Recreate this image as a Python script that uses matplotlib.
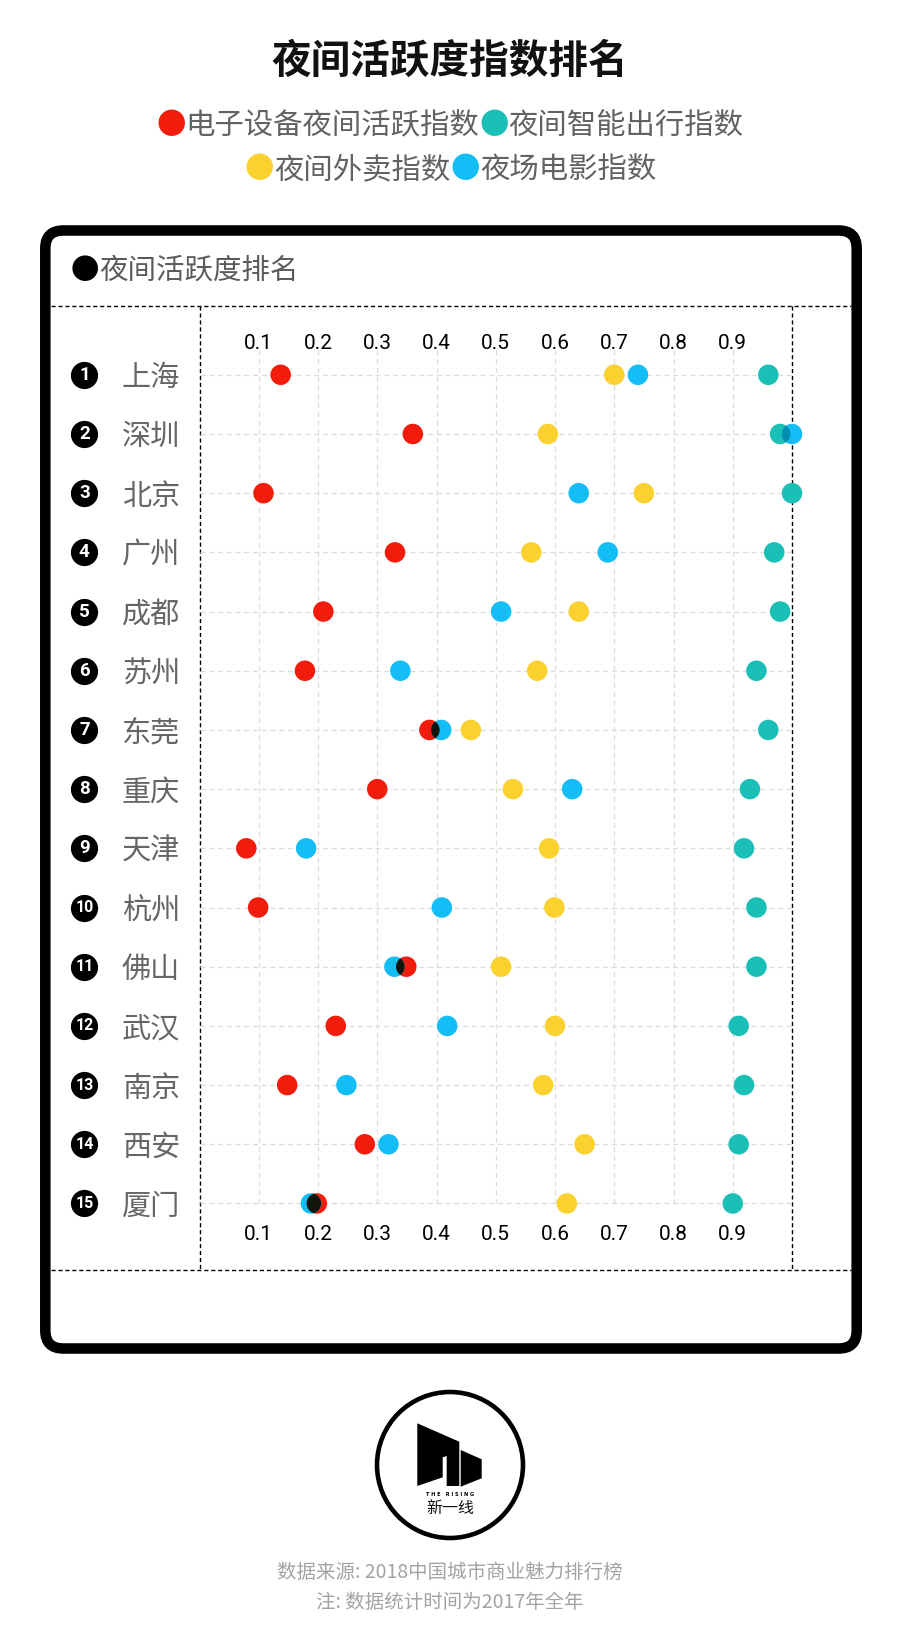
import matplotlib
matplotlib.use("Agg")
import matplotlib.pyplot as plt
from matplotlib.patches import Ellipse, FancyBboxPatch, Circle, Polygon
import numpy as np

plt.rcParams['font.family'] = ['Noto Sans CJK SC', 'DejaVu Sans']

# data
cities = ["上海", "深圳", "北京", "广州", "成都", "苏州", "东莞", "重庆",
          "天津", "杭州", "佛山", "武汉", "南京", "西安", "厦门"]
device_night = [0.137, 0.36, 0.108, 0.33, 0.209, 0.178, 0.388, 0.30,
                0.079, 0.099, 0.349, 0.23, 0.148, 0.279, 0.198]
smart_travel = [0.96, 0.98, 1.0, 0.97, 0.98, 0.94, 0.96, 0.929,
                0.919, 0.94, 0.94, 0.91, 0.919, 0.91, 0.90]
takeaway = [0.70, 0.588, 0.75, 0.56, 0.64, 0.57, 0.458, 0.529,
            0.59, 0.599, 0.509, 0.60, 0.58, 0.65, 0.62]
night_movie = [0.74, 1.0, 0.64, 0.689, 0.509, 0.339, 0.408, 0.629,
               0.18, 0.409, 0.329, 0.418, 0.248, 0.319, 0.188]
xticks = [0.1, 0.2, 0.3, 0.4, 0.5, 0.6, 0.7, 0.8, 0.9]

series_names = ["电子设备夜间活跃指数", "夜间智能出行指数", "夜间外卖指数", "夜场电影指数"]
colors = ["#f21c0c", "#1abfb6", "#fbd130", "#13bdf6"]
series = [device_night, smart_travel, takeaway, night_movie]

W, H = 900, 1650
fig = plt.figure(figsize=(9, 16.5), dpi=100)
fig.patch.set_facecolor("white")

# background axes in pixel coordinates for the decoration
bg = fig.add_axes([0, 0, 1, 1])
bg.set_xlim(0, W)
bg.set_ylim(H, 0)
bg.axis("off")

# title
bg.text(450, 61, "夜间活跃度指数排名", fontsize=28.5, fontweight="bold",
        ha="center", va="center", color="#111111")


def chain(x0, y, parts, size):
    prev = None
    for txt, col in parts:
        if prev is None:
            prev = bg.text(x0, y, txt, fontsize=size, color=col,
                           ha="left", va="center", fontweight="light")
        else:
            prev = bg.annotate(txt, xy=(1, 0.5), xycoords=prev, fontsize=size,
                               color=col, ha="left", va="center", fontweight="light")
    return prev


legend_gray = "#626262"
chain(156, 126, [("●", colors[0]), (series_names[0], legend_gray),
                 ("●", colors[1]), (series_names[1], legend_gray)], 21.2)
chain(245, 170, [("●", colors[2]), (series_names[2], legend_gray),
                 ("●", colors[3]), (series_names[3], legend_gray)], 21.2)

# rounded frame
box = FancyBboxPatch((45.3, 230.5), 811.4, 1118, boxstyle="round,pad=0,rounding_size=18",
                     facecolor="white", edgecolor="black", linewidth=7.6)
bg.add_patch(box)

chain(71, 271, [("●", "black"), ("夜间活跃度排名", "#5a5a5a")], 20.5)

# dashed frame lines
dash_kw = dict(color="black", linewidth=1.0, linestyle=(0, (3, 2)))
bg.plot([51, 851], [306, 306], **dash_kw)
bg.plot([51, 851], [1270, 1270], **dash_kw)
bg.plot([199.5, 199.5], [306, 1270], **dash_kw)
bg.plot([792, 792], [306, 1270], **dash_kw)

# logo
bg.add_patch(Circle((450, 1465), 73, facecolor="white", edgecolor="black", linewidth=3.3))
left_piece = [(417.3, 1423.3), (459.3, 1441.7), (459.3, 1486), (446.7, 1486),
              (446.7, 1456), (442.7, 1457.3), (442.7, 1477.3), (417.3, 1486)]
right_piece = [(460.7, 1450), (481.7, 1459.3), (481.7, 1478.3), (460.7, 1486.7)]
bg.add_patch(Polygon(left_piece, closed=True, facecolor="black", edgecolor="none"))
bg.add_patch(Polygon(right_piece, closed=True, facecolor="black", edgecolor="none"))
bg.text(450, 1495, "T H E   R I S I N G", fontsize=3.6, fontweight="bold",
        ha="center", va="center", color="black", family="DejaVu Sans")
bg.text(450, 1508.5, "新一线", fontsize=11.5, ha="center", va="center",
        color="#111111", fontweight="light")

# footer
bg.text(450, 1572, "数据来源: 2018中国城市商业魅力排行榜", fontsize=14, ha="center",
        va="center", color="#a3a3a3", fontweight="light")
bg.text(450, 1602, "注: 数据统计时间为2017年全年", fontsize=14, ha="center",
        va="center", color="#a3a3a3", fontweight="light")

# main chart
row0_px, row_step = 374.8, 59.19
ytop = row0_px - 0.3 * row_step
ybot = row0_px + 14.3 * row_step
ax = fig.add_axes([199.5 / W, 1 - ybot / H, 592.5 / W, (ybot - ytop) / H])
ax.patch.set_alpha(0)
ax.set_xlim(0, 1)
ax.set_ylim(14.3, -0.3)
for s in ax.spines.values():
    s.set_visible(False)

rows = np.arange(len(cities))
grid_kw = dict(color="#dcdcdc", linewidth=0.9, linestyle=(0, (4, 3)))
ax.vlines(xticks, -0.42, 14, clip_on=False, **grid_kw)
ax.hlines(rows, 0, 1, **grid_kw)

ax.set_xticks(xticks, [f"{t:.1f}" for t in xticks])
ax.tick_params(axis="x", top=True, labeltop=True, bottom=True, labelbottom=True,
               length=0, pad=3, labelsize=15, labelcolor="black")
for tick in ax.xaxis.get_major_ticks():
    tick.label1.set_fontfamily("Roboto")
    tick.label2.set_fontfamily("Roboto")

ax.set_yticks(rows, cities)
ax.tick_params(axis="y", length=0, pad=14, labelsize=21, labelcolor="#666666")
for lbl in ax.get_yticklabels():
    lbl.set_fontweight("light")

# rank badges
ytrans = ax.get_yaxis_transform()
ax.scatter([-0.1943] * len(rows), rows, s=345, color="black", transform=ytrans,
           clip_on=False, zorder=5)
for r in rows:
    n = r + 1
    ax.text(-0.1943, r, str(n), transform=ytrans, ha="center", va="center",
            color="white", fontweight="bold", fontsize=13.5 if n < 10 else 11.5,
            family="Roboto", clip_on=False, zorder=6)

# dots as ellipses in data units (round on screen)
dot_w = 20.5 / 592.5
dot_h = 20.5 / row_step
for r in rows:
    patches = []
    for vals, col in zip(series, colors):
        e = Ellipse((vals[r], r), dot_w, dot_h, facecolor=col, edgecolor="none",
                    clip_on=False, zorder=3)
        ax.add_patch(e)
        patches.append((vals[r], col, e))
    # darker overlap where two dots touch (multiply look)
    for i in range(len(patches)):
        for j in range(i + 1, len(patches)):
            xi, ci, ei = patches[i]
            xj, cj, ej = patches[j]
            if abs(xi - xj) < dot_w:
                mc = np.array(matplotlib.colors.to_rgb(ci)) * np.array(matplotlib.colors.to_rgb(cj))
                ov = Ellipse((xj, r), dot_w, dot_h, facecolor=mc, edgecolor="none",
                             zorder=4)
                ax.add_patch(ov)
                ov.set_clip_path(ei)

fig.savefig("out.png", dpi=100, facecolor="white")
